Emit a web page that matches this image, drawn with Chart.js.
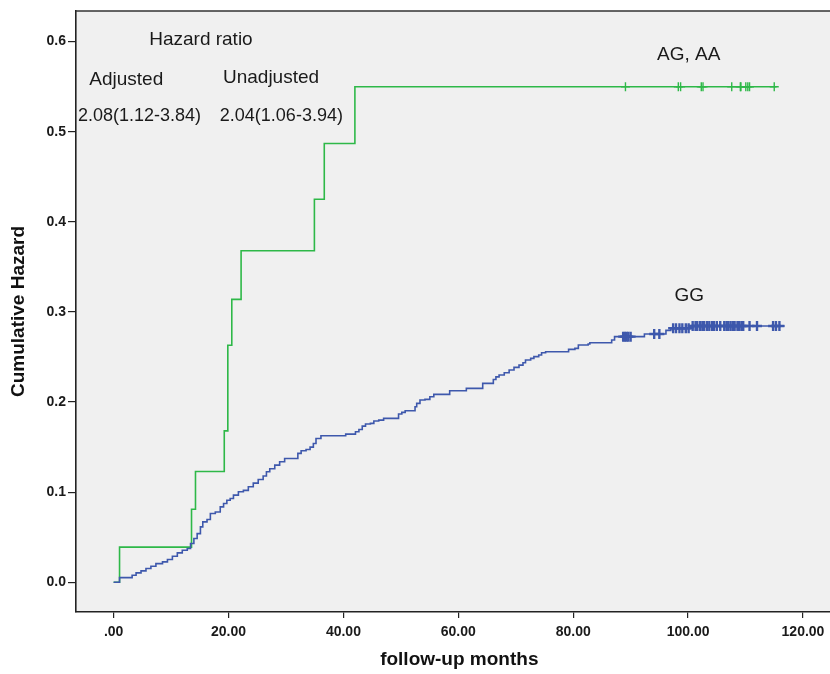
<!DOCTYPE html>
<html>
<head>
<meta charset="utf-8">
<script src="https://cdn.jsdelivr.net/npm/chart.js@4.4.1/dist/chart.umd.min.js"></script>
<style>
html, body { margin: 0; padding: 0; background: #fff; overflow: hidden; }
#wrap { width: 850px; height: 674px; }
</style>
</head>
<body>
<div id="wrap"><canvas id="haz" width="850" height="674"></canvas></div>
<script>
// GG genotype, cumulative hazard steps (months, hazard)
var ggTimes = [0, 1.03, 3.22, 3.91, 4.77, 5.63, 6.49, 7.36, 8.51, 9.37, 10.23, 11.09, 11.95, 12.82, 13.39, 13.97, 14.54, 15.11, 15.52, 16.26, 16.84, 17.7, 18.56, 19.14, 19.71, 20.29, 20.86, 21.72, 22.59, 23.45, 24.31, 25.17, 26.03, 26.6, 27.18, 28.05, 28.9, 29.77, 32.07, 32.64, 33.5, 34.2, 34.77, 35.23, 36.09, 40.4, 42.1, 42.7, 43.28, 43.85, 44.7, 45.3, 46.15, 47.0, 49.6, 50.17, 50.75, 52.47, 52.76, 53.33, 54.2, 55.05, 55.74, 58.5, 61.4, 64.25, 66.1, 66.55, 67.1, 68.0, 68.85, 69.7, 70.57, 71.26, 71.7, 72.6, 73.16, 74.0, 74.5, 75.2, 79.2, 80.3, 80.9, 82.6, 82.9, 86.7, 87.2, 92.4, 96.15, 97.0, 100.5, 116.8];
var ggHazard = [0, 0.0052, 0.0078, 0.0104, 0.0126, 0.0152, 0.0178, 0.0207, 0.0226, 0.0252, 0.0289, 0.0326, 0.0356, 0.0374, 0.043, 0.0485, 0.054, 0.0615, 0.067, 0.0696, 0.0763, 0.078, 0.0837, 0.0874, 0.091, 0.093, 0.0967, 0.1004, 0.102, 0.106, 0.110, 0.114, 0.118, 0.1226, 0.126, 0.130, 0.1337, 0.1374, 0.143, 0.1459, 0.1474, 0.150, 0.154, 0.1596, 0.1626, 0.1644, 0.167, 0.1696, 0.1733, 0.1756, 0.1763, 0.179, 0.180, 0.1819, 0.1867, 0.1885, 0.1904, 0.1948, 0.1985, 0.2022, 0.203, 0.2059, 0.2085, 0.2126, 0.2152, 0.2207, 0.225, 0.228, 0.230, 0.2326, 0.2356, 0.2385, 0.241, 0.2437, 0.2467, 0.2485, 0.2504, 0.2522, 0.2548, 0.2559, 0.2585, 0.2596, 0.2633, 0.2644, 0.2659, 0.2689, 0.2726, 0.2756, 0.2795, 0.2819, 0.2844, 0.2844];
var ggCensored = [88.7, 89.0, 89.3, 89.6, 90.0, 94.1, 95.0, 97.4, 97.9, 98.5, 99.0, 99.6, 100.1, 100.8, 101.3, 101.6, 102.1, 102.5, 102.8, 103.3, 103.7, 104.2, 104.5, 105.0, 105.6, 106.3, 106.7, 107.0, 107.4, 107.8, 108.1, 108.6, 108.9, 109.3, 109.6, 110.7, 112.0, 114.8, 115.3, 115.9];

// AG, AA genotypes
var agTimes = [0, 1.03, 13.56, 14.25, 19.26, 19.88, 20.57, 22.19, 34.95, 36.67, 42.0, 115.4];
var agHazard = [0, 0.039, 0.081, 0.123, 0.168, 0.263, 0.314, 0.368, 0.425, 0.487, 0.550, 0.550];
var agCensored = [89.1, 98.3, 98.7, 102.3, 102.6, 107.6, 109.1, 109.2, 110.05, 110.4, 110.7, 115.0];

var xTicks = [0, 20, 40, 60, 80, 100, 120];
var yTicks = [0, 0.1, 0.2, 0.3, 0.4, 0.5, 0.6];

var notes = [
	{ text: 'Hazard ratio', x: 15.2, y: 0.602, size: 19 },
	{ text: 'Adjusted', x: 2.2, y: 0.558, size: 19 },
	{ text: 'Unadjusted', x: 27.4, y: 0.560, size: 19 },
	{ text: '2.08(1.12-3.84)', x: 4.5, y: 0.517, size: 18 },
	{ text: '2.04(1.06-3.94)', x: 29.2, y: 0.517, size: 18 },
	{ text: 'AG, AA', x: 100.1, y: 0.585, size: 19 },
	{ text: 'GG', x: 100.2, y: 0.318, size: 19 }
];

var FONT = '"Liberation Sans", Arial, sans-serif';

function points(times, vals) {
	var out = [];
	for (var i in times) {
		out.push({ x: times[i], y: vals[i] });
	}
	return out;
}

// hazard value of a step curve at time t
function valueAt(times, vals, t) {
	var v = vals[0];
	for (var i = 0; i < times.length; i++) {
		if (times[i] <= t) v = vals[i];
	}
	return v;
}

function censorPoints(cens, times, vals) {
	var out = [];
	for (var i in cens) {
		out.push({ x: cens[i], y: valueAt(times, vals, cens[i]) });
	}
	return out;
}

var plotFrame = {
	id: 'plotFrame',
	beforeDraw: function(chart) {
		var c = chart.ctx, a = chart.chartArea;
		c.save();
		c.fillStyle = '#ffffff';
		c.fillRect(0, 0, chart.width, chart.height);
		c.fillStyle = '#f0f0f0';
		c.fillRect(a.left, a.top, a.right - a.left, a.bottom - a.top);
		c.restore();
	},
	afterDraw: function(chart) {
		var c = chart.ctx, a = chart.chartArea;
		var xs = chart.scales.x, ys = chart.scales.y;
		c.save();
		c.strokeStyle = '#333333';
		c.lineWidth = 1.5;
		c.beginPath();
		c.moveTo(a.left, a.top);
		c.lineTo(a.right, a.top);
		c.stroke();
		c.fillStyle = '#1a1a1a';
		c.textAlign = 'center';
		c.textBaseline = 'middle';
		notes.forEach(function(n) {
			c.font = n.size + 'px ' + FONT;
			c.fillText(n.text, xs.getPixelForValue(n.x), ys.getPixelForValue(n.y));
		});
		c.restore();
	}
};

var ctx = document.getElementById('haz');

var chart = new Chart(ctx, {
	type: 'scatter',
	data: {
		datasets: [
			{
				label: 'GG',
				data: points(ggTimes, ggHazard),
				showLine: true,
				stepped: true,
				borderColor: '#3e58ac',
				borderWidth: 1.6,
				pointRadius: 0
			},
			{
				label: 'AG, AA',
				data: points(agTimes, agHazard),
				showLine: true,
				stepped: true,
				borderColor: '#2eb848',
				borderWidth: 1.6,
				pointRadius: 0
			},
			{
				label: 'GG censored',
				data: censorPoints(ggCensored, ggTimes, ggHazard),
				showLine: false,
				pointStyle: 'cross',
				pointRadius: 5,
				borderColor: '#3e58ac',
				borderWidth: 2.4
			},
			{
				label: 'AG, AA censored',
				data: censorPoints(agCensored, agTimes, agHazard),
				showLine: false,
				pointStyle: 'cross',
				pointRadius: 4.5,
				borderColor: '#2eb848',
				borderWidth: 1.4
			}
		]
	},
	options: {
		responsive: false,
		animation: false,
		events: [],
		layout: { padding: { top: 11, left: 0, right: 0, bottom: 0 } },
		plugins: {
			legend: { display: false },
			tooltip: { enabled: false }
		},
		scales: {
			x: {
				type: 'linear',
				min: -6.55,
				max: 126.9,
				afterBuildTicks: function(scale) {
					scale.ticks = xTicks.map(function(v) { return { value: v }; });
				},
				afterFit: function(scale) { scale.height = 62; },
				ticks: {
					autoSkip: false,
					maxRotation: 0,
					padding: 6,
					color: '#1a1a1a',
					font: { family: FONT, size: 14, weight: 'bold' },
					callback: function(v) { return v === 0 ? '.00' : v.toFixed(2); }
				},
				grid: { drawOnChartArea: false, drawTicks: true, tickLength: 6, color: '#222222', lineWidth: 1.2 },
				border: { display: true, color: '#222222', width: 1.6 },
				title: {
					display: true,
					text: 'follow-up months',
					color: '#111111',
					font: { family: FONT, size: 19, weight: 'bold' },
					padding: { top: 0, bottom: 3 }
				}
			},
			y: {
				type: 'linear',
				min: -0.033,
				max: 0.634,
				afterBuildTicks: function(scale) {
					scale.ticks = yTicks.map(function(v) { return { value: v }; });
				},
				afterFit: function(scale) { scale.width = 76; },
				ticks: {
					autoSkip: false,
					padding: 2,
					color: '#1a1a1a',
					font: { family: FONT, size: 14, weight: 'bold' },
					callback: function(v) { return v.toFixed(1); }
				},
				grid: { drawOnChartArea: false, drawTicks: true, tickLength: 8, color: '#222222', lineWidth: 1.2 },
				border: { display: true, color: '#222222', width: 1.6 },
				title: {
					display: true,
					text: 'Cumulative Hazard',
					color: '#111111',
					font: { family: FONT, size: 19, weight: 'bold' },
					padding: { top: 7, bottom: 0 }
				}
			}
		}
	},
	plugins: [plotFrame]
});
</script>
</body>
</html>
